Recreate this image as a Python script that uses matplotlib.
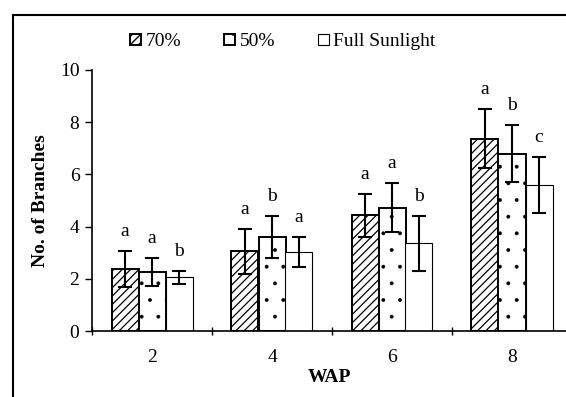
import matplotlib.pyplot as plt
import numpy as np
from matplotlib.patches import Rectangle

plt.rcParams['font.family'] = ['Liberation Serif', 'DejaVu Serif']

# data
wap = ['2', '4', '6', '8']
shade70 = [2.37, 3.06, 4.43, 7.37]
shade70_err = [0.68, 0.86, 0.82, 1.12]
shade50 = [2.26, 3.60, 4.73, 6.79]
shade50_err = [0.53, 0.82, 0.93, 1.10]
full_sun = [2.05, 3.03, 3.36, 5.61]
full_sun_err = [0.25, 0.57, 1.05, 1.07]
letters70 = ['a', 'a', 'a', 'a']
letters50 = ['a', 'b', 'a', 'b']
letters_full = ['b', 'a', 'b', 'c']

fig = plt.figure(figsize=(5.66, 3.97), dpi=100)
ax = fig.add_axes([92 / 566, 66 / 397, 1 - 92 / 566, 261 / 397])

x = np.arange(1, len(wap) + 1)
w = 0.225

series = [
    (shade70, shade70_err, letters70, '70%', '////', 1.4, 0.9),
    (shade50, shade50_err, letters50, '50%', '.', 1.4, 0.3),
    (full_sun, full_sun_err, letters_full, 'Full Sunlight', '', 0.8, 1.0),
]

for i, (vals, errs, lets, lab, hat, lw, hlw) in enumerate(series):
    plt.rcParams['hatch.linewidth'] = hlw
    xs = x + (i - 1) * w
    ax.bar(xs, vals, width=w, color='white', edgecolor='black', hatch=hat,
           linewidth=lw, label=lab, zorder=2)
    ax.errorbar(xs, vals, yerr=errs, fmt='none', ecolor='black',
                elinewidth=1.5, capsize=5, capthick=1.5, zorder=3)
    for xx, v, e, t in zip(xs, vals, errs, lets):
        ax.text(xx, v + e + 0.75, t, ha='center', va='center', fontsize=14)

ax.set_xlim(0.5, 4.45)
ax.set_ylim(0, 10)
ax.set_yticks([0, 2, 4, 6, 8, 10])
ax.set_xticks(x)
ax.set_xticklabels(wap)
ax.set_xticks([0.5, 1.5, 2.5, 3.5], minor=True)
ax.tick_params(axis='x', which='major', length=0, pad=13, labelsize=14)
ax.tick_params(axis='x', which='minor', length=6, direction='inout', width=1)
ax.tick_params(axis='y', labelsize=14, length=5, width=1, pad=4)
for s in ['top', 'right']:
    ax.spines[s].set_visible(False)
ax.spines['left'].set_linewidth(1.2)
ax.spines['bottom'].set_linewidth(1.2)

ax.set_xlabel('WAP', fontsize=14, fontweight='bold', labelpad=2)
ax.set_ylabel('No. of Branches', fontsize=14, fontweight='bold', labelpad=8)

leg = fig.legend(loc='center', bbox_to_anchor=(0.5, 1 - 42 / 397), ncol=3,
                 frameon=False, fontsize=14, handlelength=0.55,
                 handleheight=0.55, handletextpad=0.25, columnspacing=2.2)

# outer frame around the figure
fig.patches.append(Rectangle((13 / 566, -0.1), 1.2, 1 - 15 / 397 + 0.1,
                             transform=fig.transFigure, fill=False,
                             edgecolor='black', linewidth=1.5))

fig.savefig('out.png', dpi=100)
